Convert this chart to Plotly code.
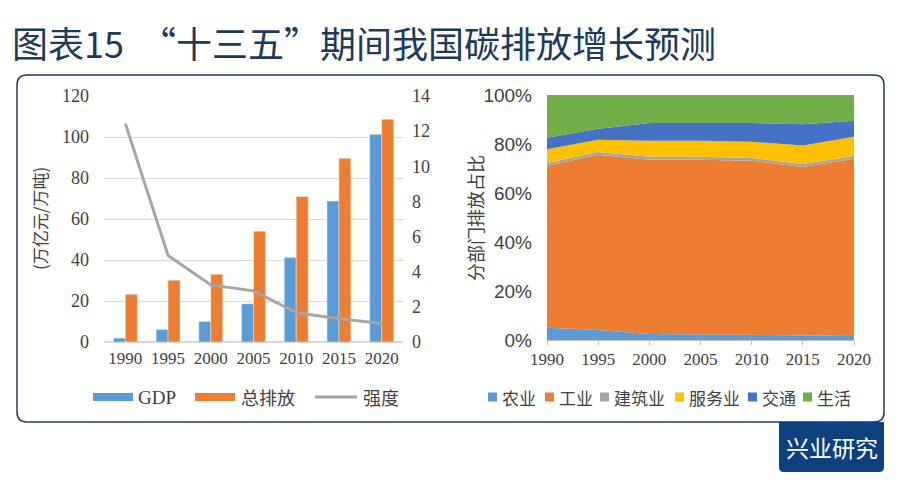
import plotly.graph_objects as go

years = ["1990", "1995", "2000", "2005", "2010", "2015", "2020"]
gdp = [1.9, 6.1, 10.0, 18.6, 41.2, 68.8, 101.3]
total_emission = [23.3, 30.1, 33.1, 54.0, 71.0, 89.6, 108.6]
intensity = [12.43, 4.92, 3.25, 2.91, 1.68, 1.32, 1.06]
left_series_names = ["GDP", "总排放", "强度"]

years_num = [1990, 1995, 2000, 2005, 2010, 2015, 2020]
sector_names = ["农业", "工业", "建筑业", "服务业", "交通", "生活"]
agri = [5.0, 4.1, 2.5, 2.3, 1.8, 1.6, 1.6]
industry = [66.1, 71.5, 71.1, 71.3, 71.4, 69.0, 72.4]
construction = [1.1, 1.1, 1.2, 1.2, 1.1, 1.2, 1.1]
services = [5.7, 5.0, 6.5, 6.5, 6.6, 7.6, 7.9]
transport = [4.7, 4.5, 7.3, 7.4, 7.7, 8.7, 6.5]
living = [17.4, 13.8, 11.4, 11.3, 11.4, 11.9, 10.5]
sector_values = [agri, industry, construction, services, transport, living]
sector_colors = ["#5B9BD5", "#ED7D31", "#A5A5A5", "#FFC000", "#4472C4", "#70AD47"]

# page body has an 8px margin, so the figure is made smaller and offset
OFF = 8
W, H = 900 - OFF, 486 - OFF
def px(x):
    return (x - OFF) / W
def py(y):
    return 1 - (y - OFF) / H

SERIF = "Liberation Serif, Times New Roman, serif"
SANS = "Liberation Sans, Arial, sans-serif"
CJK = "Noto Sans CJK SC, sans-serif"
TXT = "#404040"

fig = go.Figure()

fig.add_trace(go.Bar(x=years, y=gdp, name=left_series_names[0], marker_color="#5B9BD5",
                     xaxis="x", yaxis="y"))
fig.add_trace(go.Bar(x=years, y=total_emission, name=left_series_names[1], marker_color="#ED7D31",
                     xaxis="x", yaxis="y"))
fig.add_trace(go.Scatter(x=years, y=intensity, name=left_series_names[2], mode="lines",
                         line=dict(color="#A5A5A5", width=3),
                         xaxis="x", yaxis="y2"))

for name, vals, col in zip(sector_names, sector_values, sector_colors):
    fig.add_trace(go.Scatter(x=years_num, y=vals, name=name, mode="lines",
                             stackgroup="one", line=dict(width=0, color=col),
                             fillcolor=col, xaxis="x3", yaxis="y3"))

left_dom_x = [px(104), px(403)]
left_dom_y = [py(342), py(96)]
right_dom_x = [px(547), px(854)]
right_dom_y = [py(340), py(95)]

fig.update_layout(
    width=W, height=H,
    margin=dict(l=0, r=0, t=0, b=0, autoexpand=False),
    paper_bgcolor="white", plot_bgcolor="white",
    showlegend=False,
    barmode="group", bargap=0.44, bargroupgap=0,
    xaxis=dict(domain=left_dom_x, anchor="y", type="category",
               tickfont=dict(family=SERIF, size=17, color=TXT), tickangle=0,
               showline=False, showgrid=False, ticks="", ticklabelstandoff=4),
    yaxis=dict(domain=left_dom_y, anchor="x", range=[0, 120], dtick=20,
               showgrid=True, gridcolor="#D9D9D9", gridwidth=1,
               zeroline=True, zerolinecolor="#D9D9D9",
               tickfont=dict(family=SERIF, size=18, color=TXT),
               ticklabelstandoff=14),
    yaxis2=dict(overlaying="y", side="right", anchor="x", range=[0, 14], dtick=2,
                showgrid=False, zeroline=False,
                tickfont=dict(family=SERIF, size=18, color=TXT),
                ticklabelstandoff=8),
    xaxis3=dict(domain=right_dom_x, anchor="y3", range=[1990, 2020], dtick=5,
                tick0=1990, showgrid=False, showline=True, linecolor="#BFBFBF",
                ticks="outside", ticklen=4, tickcolor="#BFBFBF", tickangle=0,
                tickfont=dict(family=SERIF, size=17, color=TXT)),
    yaxis3=dict(domain=right_dom_y, anchor="x3", range=[0, 100], dtick=20,
                ticksuffix="%", showgrid=False, zeroline=False,
                tickfont=dict(family=SANS, size=19, color=TXT),
                ticklabelstandoff=14),
)

def note(text, x, y, size, family=CJK, color=TXT, xanchor="center", angle=0):
    fig.add_annotation(text=text, x=px(x), y=py(y), xref="paper", yref="paper",
                       xanchor=xanchor, yanchor="middle", textangle=angle,
                       showarrow=False, font=dict(family=family, size=size, color=color))

# frame box with rounded corners
x0, x1, y0, y1, r = 17, 884, 75, 422, 10
path = (f"M {px(x0+r)},{py(y0)} L {px(x1-r)},{py(y0)} "
        f"Q {px(x1)},{py(y0)} {px(x1)},{py(y0+r)} "
        f"L {px(x1)},{py(y1-r)} Q {px(x1)},{py(y1)} {px(x1-r)},{py(y1)} "
        f"L {px(x0+r)},{py(y1)} Q {px(x0)},{py(y1)} {px(x0)},{py(y1-r)} "
        f"L {px(x0)},{py(y0+r)} Q {px(x0)},{py(y0)} {px(x0+r)},{py(y0)} Z")
fig.add_shape(type="path", path=path, xref="paper", yref="paper",
              line=dict(color="#1F3B5C", width=1.5), layer="below")

# badge
bx0, bx1, by0, by1, br = 779, 884, 422, 472, 5
bpath = (f"M {px(bx0)},{py(by0)} L {px(bx1)},{py(by0)} "
         f"L {px(bx1)},{py(by1-br)} Q {px(bx1)},{py(by1)} {px(bx1-br)},{py(by1)} "
         f"L {px(bx0+br)},{py(by1)} Q {px(bx0)},{py(by1)} {px(bx0)},{py(by1-br)} Z")
fig.add_shape(type="path", path=bpath, xref="paper", yref="paper",
              fillcolor="#0E3F7E", line=dict(width=0))
note("兴业研究", 832, 447, 23, color="white")

# title
note("图表15  “十三五”期间我国碳排放增长预测", 10, 42, 36, color="#1B3A5C", xanchor="left")

# axis titles
note("(万亿元/万吨)", 40, 219, 17, angle=-90)
note("分部门排放占比", 475, 218, 18, angle=-90)

# left legend (manual)
LY = 397
fig.add_shape(type="rect", xref="paper", yref="paper",
              x0=px(93), x1=px(133), y0=py(LY + 4), y1=py(LY - 4),
              fillcolor="#5B9BD5", line=dict(width=0))
note(left_series_names[0], 136, LY, 19, family=SERIF, xanchor="left")
fig.add_shape(type="rect", xref="paper", yref="paper",
              x0=px(195), x1=px(235), y0=py(LY + 4), y1=py(LY - 4),
              fillcolor="#ED7D31", line=dict(width=0))
note(left_series_names[1], 239, LY, 18, xanchor="left")
fig.add_shape(type="line", xref="paper", yref="paper",
              x0=px(315), x1=px(357), y0=py(LY), y1=py(LY),
              line=dict(color="#A5A5A5", width=3))
note(left_series_names[2], 361, LY, 18, xanchor="left")

# right legend (manual)
legend_x = [488, 545, 600, 675, 748, 803]
for lx, name, col in zip(legend_x, sector_names, sector_colors):
    fig.add_shape(type="rect", xref="paper", yref="paper",
                  x0=px(lx), x1=px(lx + 9), y0=py(LY + 4.5), y1=py(LY - 4.5),
                  fillcolor=col, line=dict(width=0))
    note(name, lx + 12, LY, 17, xanchor="left")

fig.write_html("out.html")
